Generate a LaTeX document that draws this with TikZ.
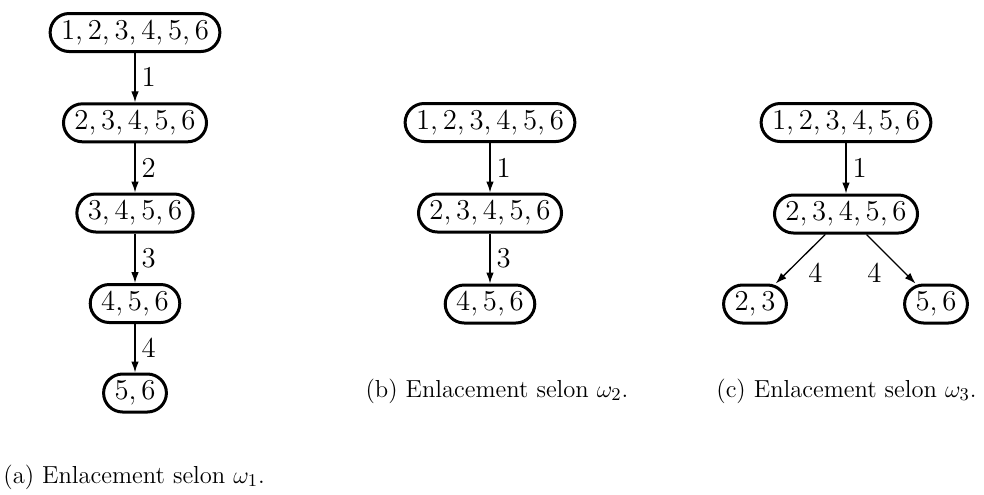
\documentclass[tikz,border=0pt]{standalone}
\usetikzlibrary{arrows.meta}
\begin{document}
\begin{tikzpicture}[x=0.5pt,y=-0.5pt,
  set/.style={draw, line width=1.5pt, rounded corners=9.5pt, minimum height=19pt,
    inner xsep=5.5pt, inner ysep=0pt, text height=9.4pt, text depth=2.8pt,
    font=\fontsize{14.5}{17}\selectfont},
  arr/.style={line width=0.65pt, -{Latex[length=5.5pt,width=3.8pt]}},
  lbl/.style={font=\fontsize{14.5}{17}\selectfont, inner sep=3pt},
  captext/.style={font=\fontsize{12.3}{14}\selectfont, anchor=base west, inner sep=0pt}]
\useasboundingbox (0,0) rectangle (984,494);

% (a)
\node[set] (a1) at (135,32.5) {$1,2,3,4,5,6$};
\node[set] (a2) at (135,122.8) {$2,3,4,5,6$};
\node[set] (a3) at (135,213) {$3,4,5,6$};
\node[set] (a4) at (135,303.5) {$4,5,6$};
\node[set] (a5) at (135,393) {$5,6$};
\draw[arr] (a1) -- node[lbl, midway, right] {$1$} (a2);
\draw[arr] (a2) -- node[lbl, midway, right] {$2$} (a3);
\draw[arr] (a3) -- node[lbl, midway, right] {$3$} (a4);
\draw[arr] (a4) -- node[lbl, midway, right] {$4$} (a5);
\node[captext] (capa) at (3,483) {(a) Enlacement selon $\omega_1$.};

% (b)
\node[set] (b1) at (490,122.5) {$1,2,3,4,5,6$};
\node[set] (b2) at (490,213) {$2,3,4,5,6$};
\node[set] (b3) at (490,304) {$4,5,6$};
\draw[arr] (b1) -- node[lbl, midway, right] {$1$} (b2);
\draw[arr] (b2) -- node[lbl, midway, right] {$3$} (b3);
\node[captext, anchor=base] (capb) at (497,397) {(b) Enlacement selon $\omega_2$.};

% (c)
\node[set] (c1) at (846,122.5) {$1,2,3,4,5,6$};
\node[set] (c2) at (846,214) {$2,3,4,5,6$};
\node[set] (c3) at (755,304) {$2,3$};
\node[set] (c4) at (936,304) {$5,6$};
\draw[arr] (c1) -- node[lbl, midway, right] {$1$} (c2);
\draw[arr] (c2) -- node[lbl, midway, xshift=7.5pt, yshift=-7.25pt] {$4$} (c3);
\draw[arr] (c2) -- node[lbl, midway, xshift=-8.25pt, yshift=-7.25pt] {$4$} (c4);
\node[captext] (capc) at (716,397) {(c) Enlacement selon $\omega_3$.};
\end{tikzpicture}
\end{document}
